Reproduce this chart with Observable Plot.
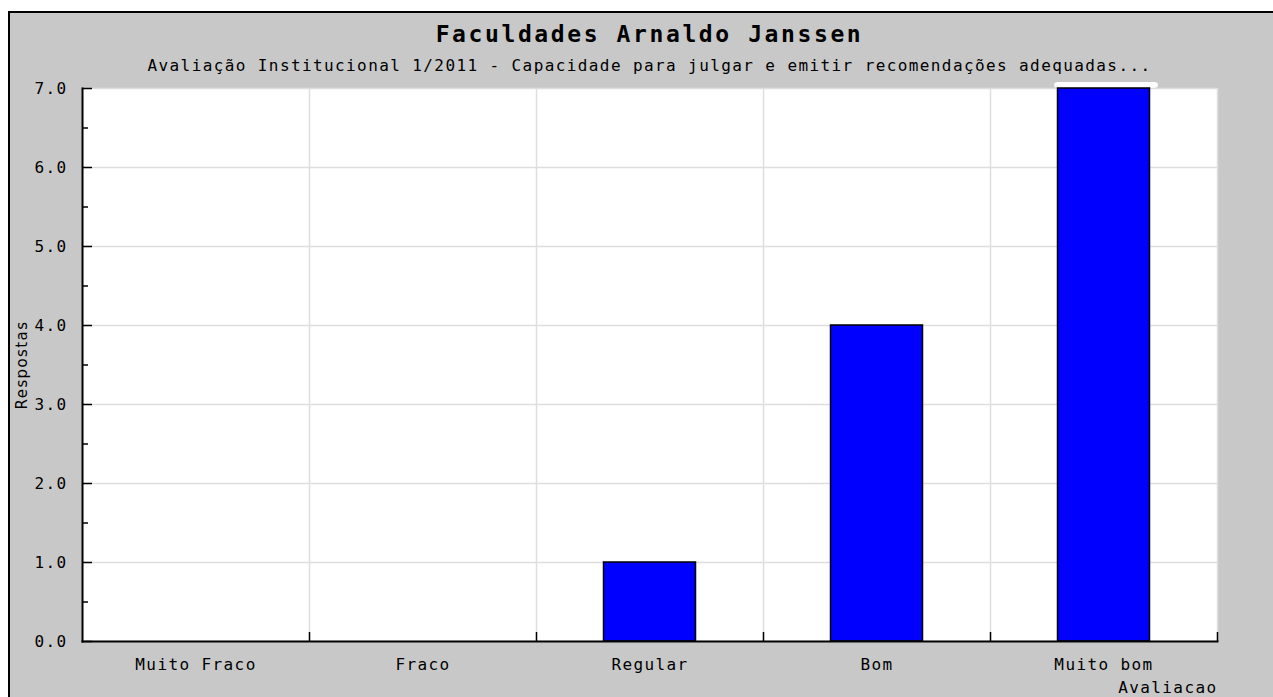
<!DOCTYPE html>
<html>
<head>
<meta charset="utf-8">
<script src="https://cdn.jsdelivr.net/npm/d3@7"></script>
<script src="https://cdn.jsdelivr.net/npm/@observablehq/plot@0.6"></script>
<style>
  html, body { margin: 0; padding: 0; background: #ffffff; width: 1273px; height: 697px; overflow: hidden; }
  #panel { position: absolute; left: 8px; top: 11px; width: 1300px; height: 720px; background: #c8c8c8; border: 2px solid #000; }
  .ttl { position: absolute; left: 82px; width: 1135px; text-align: center; font-family: "DejaVu Sans Mono", monospace; white-space: nowrap; color: #000; }
  #title { top: 23px; font-size: 23px; line-height: 23px; font-weight: bold; letter-spacing: 2.6px; }
  #subtitle { top: 58px; font-size: 16px; line-height: 16px; letter-spacing: 1.4px; }
  #chart { position: absolute; left: 0; top: 0; }
</style>
</head>
<body>
<div id="panel"></div>
<div id="title" class="ttl"></div>
<div id="subtitle" class="ttl"></div>
<div id="chart"></div>
<script>
const titleText = "Faculdades Arnaldo Janssen";
const subtitleText = "Avaliação Institucional 1/2011 - Capacidade para julgar e emitir recomendações adequadas...";
const categories = ["Muito Fraco", "Fraco", "Regular", "Bom", "Muito bom"];
const values = [0, 0, 1, 4, 7];
const yMajorTicks = [0, 1, 2, 3, 4, 5, 6, 7];
const yMinorTicks = [0.5, 1.5, 2.5, 3.5, 4.5, 5.5, 6.5];
const yLabel = "Respostas";
const xLabel = "Avaliacao";

document.getElementById("title").textContent = titleText;
document.getElementById("subtitle").textContent = subtitleText;

const table = categories.map((c, i) => ({cat: c, idx: i, value: values[i]}));
const boundaries = d3.range(categories.length + 1);
const centers = table.map(d => d.idx + 0.5);
const maxVal = d3.max(values);
const mono = "DejaVu Sans Mono, monospace";

const chart = Plot.plot({
  width: 1273,
  height: 697,
  marginLeft: 82,
  marginRight: 56,
  marginTop: 88,
  marginBottom: 56,
  style: {background: "transparent", fontFamily: mono, fontSize: "16px", color: "#000", overflow: "visible", letterSpacing: "1.4px"},
  x: {type: "linear", domain: [0, categories.length], axis: null},
  y: {domain: [0, 7], axis: null},
  marks: [
    Plot.frame({fill: "#ffffff", stroke: null}),
    Plot.rect(table.filter(d => d.value === maxVal), {
      x1: d => d.idx, x2: d => d.idx + 1, y1: d => d.value, y2: d => d.value,
      fill: "#ffffff", insetLeft: 64, insetRight: 59, insetTop: -6, rx: 4
    }),
    Plot.gridY({ticks: yMajorTicks, stroke: "#dedede", strokeOpacity: 1, strokeWidth: 1.5}),
    Plot.gridX({ticks: boundaries, stroke: "#dedede", strokeOpacity: 1, strokeWidth: 1.5}),
    Plot.rect(table, {
      x1: d => d.idx, x2: d => d.idx + 1, y1: 0, y2: "value",
      fill: "#0000ff", stroke: "#000", strokeWidth: 1.5, insetLeft: 67.5, insetRight: 67.5
    }),
    Plot.axisX({ticks: boundaries.slice(1), tickSize: -9, tickFormat: () => "", stroke: "#000", strokeWidth: 1.5, label: null}),
    Plot.axisX({ticks: centers, tickSize: 0, tickPadding: 17, tickFormat: v => categories[Math.floor(v)], label: null}),
    Plot.axisY({ticks: yMajorTicks, tickSize: -10, tickPadding: 25, tickFormat: d3.format(".1f"), strokeWidth: 1.5, label: null}),
    Plot.axisY({ticks: yMinorTicks, tickSize: -6, tickFormat: () => "", strokeWidth: 1.5, label: null}),
    Plot.frame({anchor: "left", stroke: "#000", strokeWidth: 2}),
    Plot.frame({anchor: "bottom", stroke: "#000", strokeWidth: 2}),
    Plot.text([yLabel], {text: d => d, frameAnchor: "left", textAnchor: "middle", lineAnchor: "middle", rotate: -90, dx: -60, fontFamily: "DejaVu Sans, sans-serif", fontSize: 15, letterSpacing: "2.3px"}),
    Plot.text([xLabel], {text: d => d, frameAnchor: "bottom-right", textAnchor: "end", lineAnchor: "middle", dy: 46})
  ]
});
document.getElementById("chart").appendChild(chart);
</script>
</body>
</html>
